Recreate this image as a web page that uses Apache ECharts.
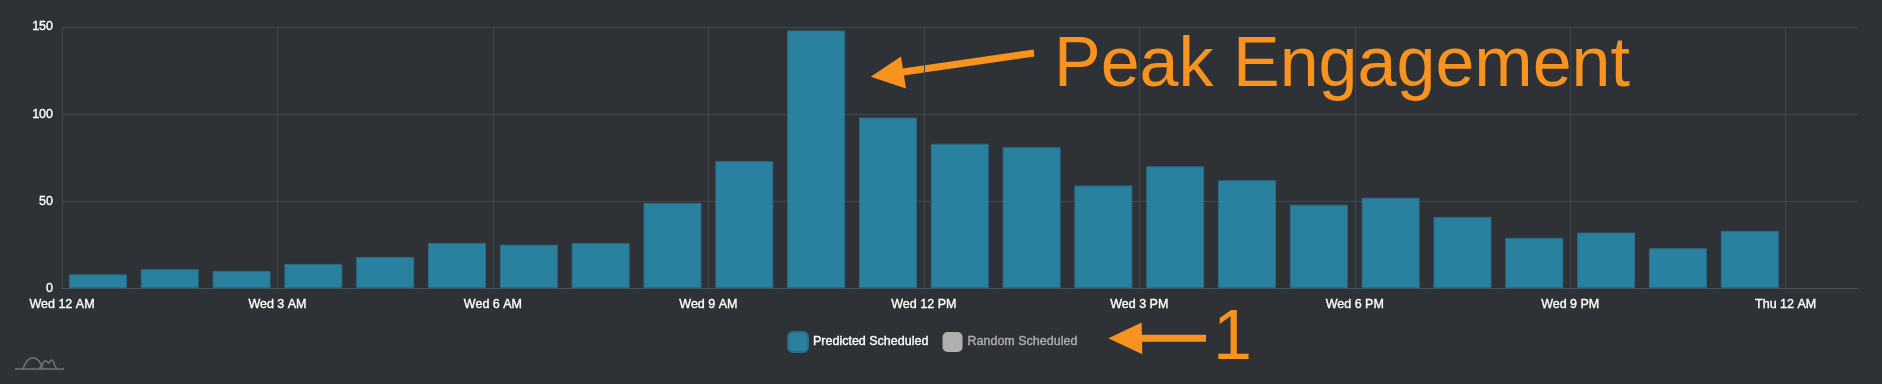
<!DOCTYPE html>
<html>
<head>
<meta charset="utf-8">
<script src="https://cdn.jsdelivr.net/npm/echarts@6/dist/echarts.min.js"></script>
<style>
  html, body { margin: 0; padding: 0; background: #2e3236; }
  #chart { width: 1882px; height: 384px; }
</style>
</head>
<body>
<div id="chart"></div>
<script>
// Hour-of-day (bar starts) for Wednesday, 12 AM .. 11 PM
const hours = [0,1,2,3,4,5,6,7,8,9,10,11,12,13,14,15,16,17,18,19,20,21,22,23];
// Predicted Scheduled engagement per hour
const predictedScheduled = [8,11,10,14,18,26,25,26,49,73,148,98,83,81,59,70,62,48,52,41,29,32,23,33];
// Tick labels every 3 hours
const tickValues = [0,3,6,9,12,15,18,21,24];
const tickLabels = ['Wed 12 AM','Wed 3 AM','Wed 6 AM','Wed 9 AM','Wed 12 PM','Wed 3 PM','Wed 6 PM','Wed 9 PM','Thu 12 AM'];
const yTicks = [0,50,100,150];
const seriesNames = ['Predicted Scheduled','Random Scheduled'];

const FONT = '"Liberation Sans", Arial, Helvetica, sans-serif';
const GRID_COLOR = '#42474c';
const ORANGE = '#f7931e';

const chart = echarts.init(document.getElementById('chart'), null, {renderer: 'canvas'});

const splitColors = tickValues.map(() => GRID_COLOR).concat(['rgba(0,0,0,0)']);

const labelStyle = { color: '#ffffff', fontSize: 12.5, fontFamily: FONT, textBorderColor: '#ffffff', textBorderWidth: 0.35 };

const option = {
  backgroundColor: '#2e3236',
  animation: false,
  grid: { left: 62, right: 24.5, top: 27, bottom: 95.7, containLabel: false },
  legend: {
    left: 787, top: 331, padding: 0,
    itemWidth: 20, itemHeight: 20, itemGap: 14,
    icon: 'roundRect',
    textStyle: { color: '#ffffff', fontSize: 12.5, fontFamily: FONT, textBorderColor: 'inherit', textBorderWidth: 0.35 },
    inactiveColor: '#b0b0b0',
    inactiveBorderColor: '#b0b0b0',
    data: seriesNames,
    selected: { 'Random Scheduled': false }
  },
  xAxis: {
    type: 'value',
    min: 0, max: 25, interval: 3,
    axisLine: { show: true, lineStyle: { color: '#4a4f54', width: 1 } },
    axisTick: { show: false },
    axisLabel: Object.assign({}, labelStyle, {
      margin: 10,
      showMaxLabel: false,
      formatter: function (v) {
        const i = tickValues.indexOf(v);
        return i >= 0 ? tickLabels[i] : '';
      }
    }),
    splitLine: { show: true, lineStyle: { color: splitColors, width: 1 } }
  },
  yAxis: {
    type: 'value',
    min: yTicks[0], max: yTicks[yTicks.length - 1], interval: 50,
    axisLine: { show: true, lineStyle: { color: GRID_COLOR } },
    axisTick: { show: false },
    axisLabel: Object.assign({}, labelStyle, { margin: 9 }),
    splitLine: { show: true, lineStyle: { color: GRID_COLOR, width: 1 } }
  },
  series: [
    {
      name: seriesNames[0],
      type: 'bar',
      barWidth: 58,
      data: hours.map((h, i) => [h + 0.5, predictedScheduled[i]]),
      itemStyle: { color: '#29809f', borderColor: '#2a6c87', borderWidth: 1 }
    },
    {
      name: seriesNames[1],
      type: 'bar',
      barWidth: 58,
      data: [],
      itemStyle: { color: '#b0b0b0' }
    }
  ],
  graphic: [
    // Peak Engagement annotation
    {
      type: 'text', x: 1054, y: 32,
      style: { text: 'Peak Engagement', fill: ORANGE, font: '70px ' + FONT, textAlign: 'left', textVerticalAlign: 'top' }
    },
    {
      type: 'line',
      shape: { x1: 903, y1: 72, x2: 1034, y2: 53 },
      style: { stroke: ORANGE, lineWidth: 7 }
    },
    {
      type: 'polygon',
      shape: { points: [[870.7, 76.7], [901, 56.5], [906, 88.5]] },
      style: { fill: ORANGE }
    },
    // "1" annotation
    {
      type: 'text', x: 1213, y: 305,
      style: { text: '1', fill: ORANGE, font: '70px ' + FONT, textAlign: 'left', textVerticalAlign: 'top' }
    },
    {
      type: 'rect',
      shape: { x: 1138, y: 334.8, width: 68, height: 7 },
      style: { fill: ORANGE }
    },
    {
      type: 'polygon',
      shape: { points: [[1108.3, 338.3], [1141.7, 322.5], [1142.3, 354.3]] },
      style: { fill: ORANGE }
    },
    // small logo bottom-left
    {
      type: 'line',
      shape: { x1: 15, y1: 369, x2: 64, y2: 369 },
      style: { stroke: '#6f7479', lineWidth: 1.5 }
    },
    {
      type: 'bezierCurve',
      shape: { x1: 23, y1: 369, cpx1: 28, cpy1: 354, cpx2: 38, cpy2: 354, x2: 43, y2: 369 },
      style: { stroke: '#6f7479', lineWidth: 1.5, fill: null }
    },
    {
      type: 'polyline',
      shape: { smooth: 0.4, points: [[39,369],[42,365],[44,361.5],[45.7,360.7],[47.5,362],[48.7,363],[50,361],[51.7,360],[53.5,362],[55,366],[57,369]] },
      style: { stroke: '#6f7479', lineWidth: 1.5, fill: null }
    }
  ]
};

chart.setOption(option);
</script>
</body>
</html>
